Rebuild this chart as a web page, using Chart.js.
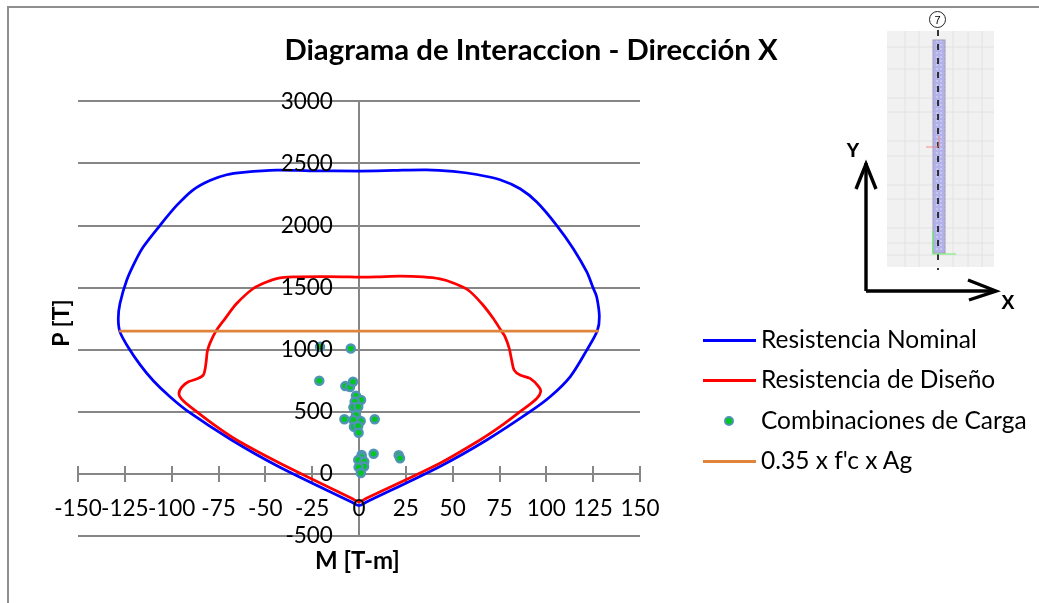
<!DOCTYPE html>
<html><head><meta charset="utf-8">
<script src="https://cdn.jsdelivr.net/npm/chart.js@4/dist/chart.umd.min.js"></script>
<style>
html,body{margin:0;padding:0;background:#fff}
#wrap{position:relative;width:1039px;height:603px;overflow:hidden;font-family:Lato,sans-serif;color:#000}
canvas{position:absolute;left:0;top:0}
#frame{position:absolute;left:7px;top:6px;width:1040px;height:610px;border-left:2px solid #8f8f8f;border-top:2px solid #8f8f8f}
.axt{position:absolute;font-weight:700;line-height:24px;white-space:nowrap}
#legend{position:absolute;left:0;top:0}
.li{position:absolute;left:703px;height:30px;width:336px;font-size:24.5px;line-height:30px;white-space:nowrap}
.li i{position:absolute;left:0;top:14px;width:53px;height:2.5px}
.li b{position:absolute;left:21px;top:10px;width:6px;height:6px;border-radius:50%;border:2.5px solid #4f93b5;background:#00c81e}
.li span{position:absolute;left:58px;top:-1px;font-weight:400}
svg{position:absolute;left:0;top:0}
</style></head>
<body><div id="wrap">
<canvas id="c" width="1039" height="603"></canvas>
<div id="frame"></div>
<div class="axt" style="left:315px;top:548px;font-size:24px">M [T-m]</div>
<div class="axt" style="left:30px;top:311px;width:60px;text-align:center;transform:rotate(-90deg);font-size:23px">P [T]</div>
<div id="legend"></div>
<svg width="1039" height="603" viewBox="0 0 1039 603" id="inset">
  <defs><pattern id="chk" width="4" height="4" patternUnits="userSpaceOnUse"><rect width="4" height="4" fill="#b2b2e8"/><rect width="2" height="2" fill="#c6c6ee"/></pattern></defs>
  <rect x="887" y="31" width="107" height="236" fill="#f1f1f1"/>
  <g stroke="#e2e2e2" stroke-width="1">
    <path d="M887 47H994M887 69H994M887 98H994M887 112H994M887 141H994M887 156H994M887 185H994M887 199H994M887 228H994M887 243H994M887 255H994"/>
    <path d="M905 31V267M919 31V267M953 31V267M968 31V267M982 31V267"/>
  </g>
  <rect x="933" y="40" width="12" height="213" fill="url(#chk)" stroke="#9a9ab8" stroke-width="1"/>
  <path d="M938 30V270" stroke="#222" stroke-width="1.8" stroke-dasharray="6 8"/>
  <path d="M926 147H938M939 147V136" stroke="#f08a8a" stroke-width="1" fill="none"/>
  <path d="M933 231V254H956" stroke="#66ee66" stroke-width="1.2" fill="none"/>
  <circle cx="937.5" cy="19.5" r="8" fill="#fff" stroke="#222" stroke-width="1"/>
  <text x="937.5" y="23.5" font-size="11" text-anchor="middle" font-family="Liberation Sans">7</text>
  <path d="M866 291V163M866 291H995" stroke="#000" stroke-width="3.4" fill="none"/>
  <path d="M856 189L866 164L876 189M968 280L996 291L969 300" stroke="#000" stroke-width="3.4" fill="none"/>
  <text x="853" y="157" font-size="20" font-weight="700" text-anchor="middle" font-family="Liberation Sans">Y</text>
  <text x="1008" y="309" font-size="20" font-weight="700" text-anchor="middle" font-family="Liberation Sans">X</text>
</svg>
</div>
<script>
const titleText = "Diagrama de Interaccion - Dirección X";
const seriesNames = ["Resistencia Nominal","Resistencia de Diseño","Combinaciones de Carga","0.35 x f'c x Ag"];
const nominalM = [0.5,18.3,36,50.3,62.8,75.3,86,94.9,105.5,114.4,121.6,125.1,126.9,128.3,127.2,121.6,112.7,102,91.3,68.2,43.2,4,0,
  -4,-43,-68,-91.1,-100.9,-109.8,-116.9,-123.2,-127.6,-128.5,-127.6,-124,-119.6,-115.2,-106.2,-97.3,-88.5,-79.6,-70.6,-61.8,-43.9,-26.2,0.5];
const nominalP = [2438,2444,2449,2436,2411,2369,2296,2189,2002,1814,1626,1493,1425,1265,1152,997,782,621,501,273,60,-226,-255,
  -226,60,273,501,621,750,880,1020,1144,1251,1372,1559,1707,1827,2002,2162,2288,2363,2409,2428,2446,2441,2438];
const designM = [0.5,9.5,21.9,34.3,43.2,50.3,58.4,65.5,71.7,75.7,78,80.2,81.5,82.8,86,91.3,95.7,97,94.9,86,75.3,64.6,43.2,4,0,
  -4,-42.2,-65.3,-76,-86.7,-93.8,-96.1,-94.7,-91.1,-86.7,-83.1,-81.7,-81,-79.6,-76.3,-71.5,-65.3,-56.4,-49.3,-44,-35,-17.2,0.5];
const designP = [1584,1586,1592,1586,1570,1538,1479,1372,1251,1158,1104,1010,916,836,796,769,707,662,608,501,380,273,86,-196,-225,
  -196,86,273,380,501,589,643,697,742,764,796,890,983,1051,1152,1251,1372,1493,1546,1573,1586,1589,1584];
const loadM = [-20.8,-4.4,-21.2,-7.3,-4.8,-3.2,-1.6,1.1,-2.3,-3,-0.4,-1.6,-7.8,0.9,-3,-2.7,-0.4,-0.2,8.4,1.4,1.4,7.8,21.2,21.9,-0.4,2.8,2.7,-0.2,1];
const loadP = [1023,1010,750,707,699,742,630,595,581,536,541,474,440,426,434,380,386,332,440,153,137,163,150,126,113,99,59,54,8];
const limitM = [-128,128];
const limitP = [1150,1150];
const xTicks = {min:-150,max:150,step:25};
const yTicks = {min:-500,max:3000,step:500};

const zip = (a,b)=>a.map((v,i)=>({x:v,y:b[i]}));
const colors = {nominal:'#0000ff',design:'#ff0000',limit:'#e0843c',ptFill:'#00c81e',ptEdge:'#4f93b5',axis:'#868686'};

const legendEl = document.getElementById('legend');
const legendTop = [325,365,406,446];
const legendStyle = [`<i style="background:${colors.nominal}"></i>`,`<i style="background:${colors.design}"></i>`,`<b></b>`,`<i style="background:${colors.limit}"></i>`];
seriesNames.forEach((n,i)=>{
  const d=document.createElement('div');d.className='li';d.style.top=legendTop[i]+'px';
  d.innerHTML=legendStyle[i]+'<span></span>';d.querySelector('span').textContent=n;legendEl.appendChild(d);
});

const crossTicks = {
  id:'crossTicks',
  afterLayout(chart){
    const t=chart.titleBlock; t.left=200; t.right=862; t.top=33; t.bottom=68;
  },
  beforeDatasetsDraw(chart){
    const s=chart.scales.x, y0=chart.scales.y.getPixelForValue(0), c=chart.ctx;
    c.save();c.strokeStyle=colors.axis;c.lineWidth=2;c.beginPath();
    s.ticks.forEach(t=>{const p=Math.round(s.getPixelForValue(t.value));c.moveTo(p,y0-8);c.lineTo(p,y0+8);});
    c.stroke();c.restore();
  }
};

new Chart(document.getElementById('c'),{
  type:'scatter',
  data:{datasets:[
    {label:seriesNames[0],data:zip(nominalM,nominalP),showLine:true,tension:0.3,borderColor:colors.nominal,borderWidth:2.75,pointRadius:0,order:4},
    {label:seriesNames[1],data:zip(designM,designP),showLine:true,tension:0.3,borderColor:colors.design,borderWidth:2.75,pointRadius:0,order:3},
    {label:seriesNames[2],data:zip(loadM,loadP),showLine:false,pointRadius:4,pointBorderWidth:2.5,pointBackgroundColor:colors.ptFill,pointBorderColor:colors.ptEdge,order:2},
    {label:seriesNames[3],data:zip(limitM,limitP),showLine:true,tension:0,borderColor:colors.limit,borderWidth:2.75,pointRadius:0,order:1}
  ]},
  options:{
    responsive:false,animation:false,
    layout:{padding:{left:78,right:399,top:66.2,bottom:67}},
    plugins:{
      legend:{display:false},tooltip:{enabled:false},
      title:{display:true,text:titleText,color:'#000',padding:0,font:{family:'Lato',size:29.3,weight:'700'}}
    },
    scales:{
      x:{type:'linear',position:{y:0},min:xTicks.min,max:xTicks.max,
        grid:{drawOnChartArea:false,drawTicks:false},border:{color:colors.axis,width:2},
        ticks:{stepSize:xTicks.step,autoSkip:false,maxRotation:0,padding:21,color:'#000',z:1,font:{family:'Lato',size:22.5},callback:v=>String(v)}},
      y:{type:'linear',position:{x:0},min:yTicks.min,max:yTicks.max,
        grid:{color:colors.axis,lineWidth:2,drawTicks:false},border:{color:colors.axis,width:2},
        ticks:{stepSize:yTicks.step,autoSkip:false,color:'#000',z:1,font:{family:'Lato',size:22.5},callback:v=>String(v)+'\u2007\u2007'}}
    }
  },
  plugins:[crossTicks]
});
</script>
</body></html>
